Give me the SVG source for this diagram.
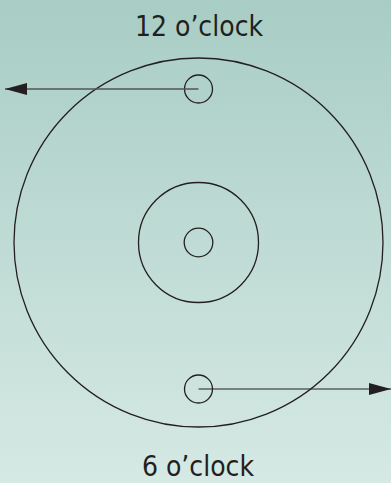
<svg xmlns="http://www.w3.org/2000/svg" width="391" height="483" viewBox="0 0 391 483">
<defs>
<linearGradient id="bg" x1="0" y1="0" x2="0" y2="1">
<stop offset="0" stop-color="#a8cdc5"/>
<stop offset="1" stop-color="#d6e9e4"/>
</linearGradient>
<marker id="ah" markerWidth="22" markerHeight="12" refX="22" refY="6" orient="auto" markerUnits="userSpaceOnUse">
<path d="M0,0 L22,6 L0,12 Z" fill="#231f20"/>
</marker>
<style>
.c{fill:none;stroke:#231f20;stroke-width:1.3}
.t{font-family:"DejaVu Sans Condensed","DejaVu Sans",sans-serif;font-stretch:condensed;font-size:28px;fill:#231f20;text-anchor:middle}
</style>
</defs>
<rect width="391" height="483" fill="url(#bg)"/>
<g id="disc"><circle class="c" cx="198.5" cy="242.5" r="184.5"/></g>
<g id="hub"><circle class="c" cx="198.5" cy="242.5" r="60"/></g>
<g id="center"><circle class="c" cx="198.5" cy="242.5" r="14.3"/></g>
<g id="top-point"><circle class="c" cx="198.5" cy="89" r="14"/></g>
<g id="bottom-point"><circle class="c" cx="198.5" cy="389" r="14"/></g>
<g id="connectors">
<line x1="198.5" y1="89" x2="5" y2="89" stroke="#555" stroke-width="1.6" marker-end="url(#ah)"/>
<line x1="198.5" y1="389" x2="391" y2="389" stroke="#231f20" stroke-width="1.2" marker-end="url(#ah)"/>
</g>
<g id="label-top"><text class="t" x="199" y="36">12 o’clock</text></g>
<g id="label-bottom"><text class="t" x="198" y="476">6 o’clock</text></g>
</svg>
